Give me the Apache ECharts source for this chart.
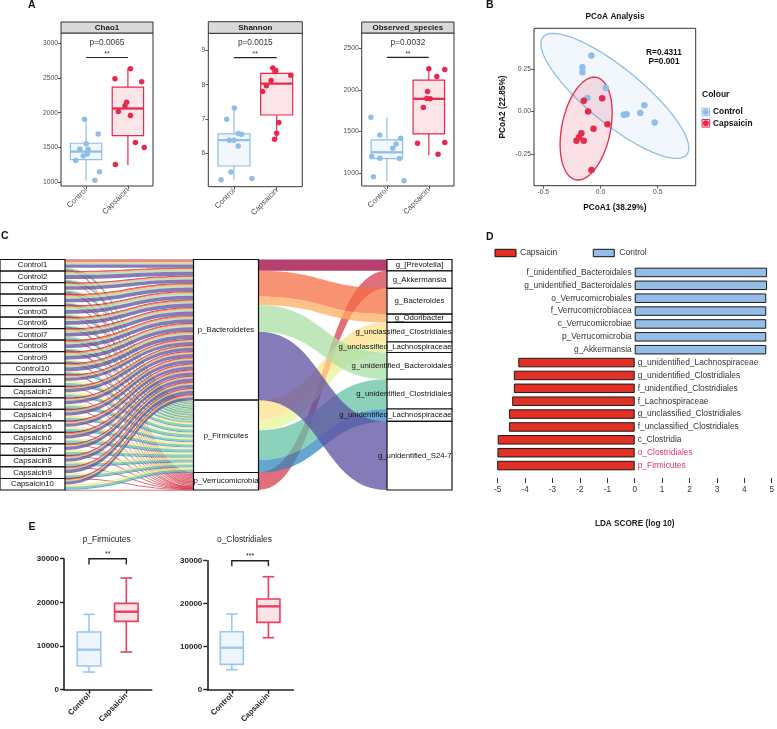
<!DOCTYPE html>
<html><head><meta charset="utf-8">
<script src="https://cdn.jsdelivr.net/npm/echarts@6/dist/echarts.min.js"></script>
<style>html,body{margin:0;padding:0;background:#fff}#c{width:777px;height:729px}</style>
</head><body><div id="c"></div>
<script>
// ================= DATA =================
const groups = ['Control', 'Capsaicin'];

// Panel A: alpha diversity (box stats: [lower whisker, Q1, median, Q3, upper whisker])
const chao1Box = [[1024, 1326, 1441, 1561, 1911], [1249, 1671, 2060, 2367, 2636]];
const chao1Control = [1906, 1695, 1552, 1480, 1475, 1408, 1379, 1312, 1153, 1029];
const chao1ControlJitter = [-0.04, 0.29, 0.0, -0.15, 0.05, 0.03, -0.07, -0.25, 0.32, 0.21];
const chao1Caps = [2631, 2487, 2444, 2151, 2098, 2017, 1959, 1571, 1499, 1254];
const chao1CapsJitter = [0.06, -0.31, 0.33, -0.03, -0.07, -0.23, 0.06, 0.18, 0.39, -0.3];
const chao1Ticks = [1000, 1500, 2000, 2500, 3000];

const shannonBox = [[5.23, 5.64, 6.39, 6.57, 7.32], [6.43, 7.12, 8.03, 8.33, 8.48]];
const shannonControl = [7.32, 7.0, 6.58, 6.56, 6.39, 6.39, 6.22, 5.47, 5.24, 5.28];
const shannonControlJitter = [0.01, -0.17, 0.1, 0.18, -0.11, 0, 0.1, -0.07, -0.3, 0.42];
const shannonCaps = [8.48, 8.41, 8.38, 8.27, 8.12, 7.97, 7.8, 6.9, 6.59, 6.42];
const shannonCapsJitter = [-0.09, -0.02, -0.04, 0.33, -0.13, -0.24, -0.33, 0.05, 0, -0.05];
const shannonTicks = [6, 7, 8, 9];

const observedBox = [[908, 1176, 1252, 1400, 1672], [1220, 1472, 1892, 2116, 2252]];
const observedControl = [1672, 1460, 1420, 1352, 1300, 1200, 1180, 1176, 960, 912];
const observedControlJitter = [-0.38, -0.17, 0.33, 0.22, 0.14, -0.36, -0.17, 0.3, -0.32, 0.41];
const observedCaps = [2252, 2244, 2160, 1980, 1896, 1892, 1788, 1360, 1368, 1228];
const observedCapsJitter = [0, 0.38, 0.19, -0.03, -0.05, 0.03, -0.13, -0.27, 0.38, 0.22];
const observedTicks = [1000, 1500, 2000, 2500];

const facetTitles = ['Chao1', 'Shannon', 'Observed_species'];
const facetPValues = ['p=0.0065', 'p=0.0015', 'p=0.0032'];
const facetSigY = [2792, 8.785, 2387];

// Panel B: PCoA
const pcoaControlX = [-0.079, -0.158, -0.158, 0.047, -0.114, 0.204, 0.228, 0.383, 0.348, 0.473];
const pcoaControlY = [0.328, 0.26, 0.23, 0.139, 0.08, -0.018, -0.016, 0.037, -0.008, -0.064];
const pcoaCapsX = [-0.146, 0.015, -0.108, 0.061, -0.061, -0.167, -0.187, -0.21, -0.146, -0.079];
const pcoaCapsY = [0.064, 0.078, 0, -0.074, -0.1, -0.127, -0.15, -0.17, -0.17, -0.342];
// ellipse: centre, conjugate semi-axis A, conjugate semi-axis B (data units)
const ellipseControl = [0.1255, 0.0918, 0.628, -0.344, 0.153, 0.125];
const ellipseCaps = [-0.1255, -0.0996, 0.0905, 0.2998, 0.2087, -0.0283];
const pcoaXTicks = [-0.5, 0, 0.5];
const pcoaYTicks = [-0.25, 0, 0.25];

// Panel C: alluvial (relative abundance, %)
const samples = ['Control1','Control2','Control3','Control4','Control5','Control6','Control7','Control8','Control9','Control10',
  'Capsaicin1','Capsaicin2','Capsaicin3','Capsaicin4','Capsaicin5','Capsaicin6','Capsaicin7','Capsaicin8','Capsaicin9','Capsaicin10'];
const phyla = ['p_Bacteroidetes', 'p_Firmicutes', 'p_Verrucomicrobia'];
const genera = ['g_[Prevotella]', 'g_Akkermansia', 'g_Bacteroides', 'g_Odoribacter', 'g_unclassified_Clostridiales',
  'g_unclassified_Lachnospiraceae', 'g_unidentified_Bacteroidales', 'g_unidentified_Clostridiales',
  'g_unidentified_Lachnospiraceae', 'g_unidentified_S24-7'];
const genusPhylum = [0, 2, 0, 0, 1, 1, 0, 1, 1, 0];
const abundance = [
  [9, 14, 15, 5, 4, 2, 14, 7, 2, 28],
  [3, 10, 11, 3, 6, 3, 18, 9, 3, 34],
  [5, 16, 9, 4, 5, 4, 15, 8, 4, 30],
  [4, 12, 14, 5, 4, 3, 17, 6, 3, 32],
  [6, 9, 10, 4, 6, 2, 19, 9, 2, 33],
  [4, 13, 13, 3, 5, 3, 14, 8, 3, 34],
  [5, 11, 12, 4, 4, 3, 16, 10, 4, 31],
  [6, 14, 11, 4, 5, 3, 15, 7, 3, 32],
  [4, 10, 12, 4, 6, 4, 17, 8, 3, 32],
  [4, 11, 13, 4, 5, 4, 15, 8, 3, 33],
  [5, 3, 11, 3, 12, 6, 7, 18, 8, 27],
  [4, 2, 10, 3, 13, 7, 6, 17, 9, 29],
  [6, 4, 9, 4, 11, 5, 8, 19, 7, 27],
  [4, 3, 12, 3, 12, 6, 7, 16, 8, 29],
  [5, 4, 10, 3, 13, 6, 8, 18, 7, 26],
  [5, 3, 11, 3, 11, 7, 7, 18, 8, 27],
  [4, 3, 10, 4, 12, 6, 7, 19, 8, 27],
  [5, 3, 11, 3, 12, 5, 8, 17, 8, 28],
  [5, 4, 9, 3, 11, 6, 7, 18, 7, 30],
  [5, 3, 11, 3, 13, 6, 7, 18, 8, 26]
];

// Panel D: LEfSe
const ldaLabels = ['f_unidentified_Bacteroidales', 'g_unidentified_Bacteroidales', 'o_Verrucomicrobiales',
  'f_Verrucomicrobiacea', 'c_Verrucomicrobiae', 'p_Verrucomicrobia', 'g_Akkermansia',
  'g_unidentified_Lachnospiraceae', 'g_unidentified_Clostridiales', 'f_unidentified_Clostridiales',
  'f_Lachnospiraceae', 'g_unclassified_Clostridiales', 'f_unclassified_Clostridiales', 'c_Clostridia',
  'o_Clostridiales', 'p_Firmicutes'];
const ldaScores = [4.83, 4.83, 4.80, 4.80, 4.80, 4.80, 4.80, -4.25, -4.41, -4.41, -4.47, -4.59, -4.59, -5.0, -5.01, -5.05];
const ldaGroups = ['Control','Control','Control','Control','Control','Control','Control',
  'Capsaicin','Capsaicin','Capsaicin','Capsaicin','Capsaicin','Capsaicin','Capsaicin','Capsaicin','Capsaicin'];
const ldaHighlight = ['o_Clostridiales', 'p_Firmicutes'];

// Panel E
const firmicutesBox = [[4046, 5420, 9160, 13206, 17252], [8626, 15649, 17863, 19771, 25573]];
const clostridialesBox = [[4651, 5891, 9767, 13488, 17597], [12093, 15659, 19380, 21085, 26279]];
const eTitles = ['p_Firmicutes', 'o_Clostridiales'];
const eStars = ['**', '***'];

// ================= STYLE =================
const FONT = '"Liberation Sans", Arial, Helvetica, sans-serif';
const CTRL = '#8FBFE8', CAPS = '#E52B4D';
const CTRL_FILL = 'rgba(143,191,232,0.13)', CAPS_FILL = 'rgba(229,43,77,0.12)';
const genusColors = ['#9E0142', '#D53E4F', '#F46D43', '#FDAE61', '#FEE08B', '#E6F598', '#ABDDA4', '#66C2A5', '#3288BD', '#5E4FA2'];
const plain = v => String(v);

// ================= HELPERS =================
function boxSeries(ai, stats, w, lw, mw, cap, strokes, fills) {
  return {
    type: 'custom', xAxisIndex: ai, yAxisIndex: ai, z: 2, silent: true,
    data: stats.map((s, i) => [i + 1].concat(s)),
    encode: {x: 0, y: [1, 2, 3, 4, 5]},
    renderItem: function (params, api) {
      const i = params.dataIndex;
      const x = api.value(0);
      const lo = api.coord([x, api.value(1)]), q1 = api.coord([x, api.value(2)]);
      const md = api.coord([x, api.value(3)]), q3 = api.coord([x, api.value(4)]);
      const hi = api.coord([x, api.value(5)]);
      const xl = api.coord([x - w / 2, api.value(3)])[0], xr = api.coord([x + w / 2, api.value(3)])[0];
      const st = {stroke: strokes[i], lineWidth: lw};
      const ch = [
        {type: 'line', shape: {x1: lo[0], y1: lo[1], x2: q1[0], y2: q1[1]}, style: st},
        {type: 'line', shape: {x1: q3[0], y1: q3[1], x2: hi[0], y2: hi[1]}, style: st},
        {type: 'rect', shape: {x: xl, y: q3[1], width: xr - xl, height: q1[1] - q3[1]}, style: {fill: fills[i], stroke: strokes[i], lineWidth: lw}},
        {type: 'line', shape: {x1: xl, y1: md[1], x2: xr, y2: md[1]}, style: {stroke: strokes[i], lineWidth: mw}}
      ];
      if (cap) {
        const cw = (xr - xl) * cap / 2;
        ch.push({type: 'line', shape: {x1: lo[0] - cw, y1: lo[1], x2: lo[0] + cw, y2: lo[1]}, style: st});
        ch.push({type: 'line', shape: {x1: hi[0] - cw, y1: hi[1], x2: hi[0] + cw, y2: hi[1]}, style: st});
      }
      return {type: 'group', children: ch};
    }
  };
}
function jitterSeries(ai, gx, vals, jit, color, size) {
  return {type: 'scatter', xAxisIndex: ai, yAxisIndex: ai, z: 3, symbolSize: size,
    itemStyle: {color: color, opacity: 1}, silent: true,
    data: vals.map((v, i) => [gx + jit[i], v])};
}
function sigASeries(ai) {
  return {type: 'custom', xAxisIndex: ai, yAxisIndex: ai, z: 4, silent: true,
    data: [[1, 2, facetSigY[ai]]], encode: {x: [0, 1], y: 2},
    renderItem: function (params, api) {
      const p1 = api.coord([api.value(0), api.value(2)]), p2 = api.coord([api.value(1), api.value(2)]);
      const mx = (p1[0] + p2[0]) / 2;
      return {type: 'group', children: [
        {type: 'line', shape: {x1: p1[0], y1: p1[1], x2: p2[0], y2: p2[1]}, style: {stroke: '#222', lineWidth: 1.2}},
        {type: 'text', style: {x: mx, y: p1[1] - 15, text: facetPValues[ai], align: 'center', verticalAlign: 'middle', fontSize: 8.3, fontFamily: FONT, fill: '#333'}},
        {type: 'text', style: {x: mx, y: p1[1] - 3.5, text: '**', align: 'center', verticalAlign: 'middle', fontSize: 7, fontFamily: FONT, fill: '#333'}}
      ]};
    }};
}
function sigESeries(ai, k) {
  return {type: 'custom', xAxisIndex: ai, yAxisIndex: ai, z: 4, silent: true,
    data: [[1, 2, 30000, 28700]], encode: {x: [0, 1], y: [2, 3]},
    renderItem: function (params, api) {
      const a = api.coord([api.value(0), api.value(2)]), b = api.coord([api.value(1), api.value(2)]);
      const a2 = api.coord([api.value(0), api.value(3)]), b2 = api.coord([api.value(1), api.value(3)]);
      const st = {stroke: '#222', lineWidth: 1.4, fill: null};
      return {type: 'group', children: [
        {type: 'polyline', shape: {points: [[a2[0], a2[1]], [a[0], a[1]], [b[0], b[1]], [b2[0], b2[1]]]}, style: st},
        {type: 'text', style: {x: (a[0] + b[0]) / 2, y: a[1] - 4.5, text: eStars[k], align: 'center', verticalAlign: 'middle', fontSize: 7, fontFamily: FONT, fill: '#222'}}
      ]};
    }};
}
function facetX(gi) {
  return {gridIndex: gi, type: 'value', min: 0.4, max: 2.6,
    axisLine: {show: false, onZero: false}, splitLine: {show: false},
    axisTick: {show: true, customValues: [1, 2], length: 3, lineStyle: {color: '#333', width: 0.8}},
    axisLabel: {customValues: [1, 2], rotate: 45, fontSize: 7.8, color: '#4D4D4D', margin: 3, fontFamily: FONT,
      formatter: v => groups[Math.round(v) - 1]}};
}
function facetY(gi, min, max, ticks, fmt) {
  return {gridIndex: gi, type: 'value', min: min, max: max,
    axisLine: {show: false, onZero: false}, splitLine: {show: false},
    axisTick: {show: true, customValues: ticks, length: 3, lineStyle: {color: '#333', width: 0.8}},
    axisLabel: {customValues: ticks, fontSize: 6.8, color: '#4D4D4D', margin: 3, fontFamily: FONT, formatter: fmt || plain}};
}
function eX(gi) {
  return {gridIndex: gi, type: 'value', min: 0.33, max: 2.68,
    axisLine: {show: true, onZero: false, lineStyle: {color: '#222', width: 1.6}}, splitLine: {show: false},
    axisTick: {show: true, customValues: [1, 2], length: 4, lineStyle: {color: '#222', width: 1.4}},
    axisLabel: {customValues: [1, 2], rotate: 45, fontSize: 7.8, fontWeight: 'bold', color: '#222', margin: 5, fontFamily: FONT,
      formatter: v => groups[Math.round(v) - 1]}};
}
function eY(gi) {
  return {gridIndex: gi, type: 'value', min: 0, max: 30000, interval: 10000,
    axisLine: {show: true, onZero: false, lineStyle: {color: '#222', width: 1.6}}, splitLine: {show: false},
    axisTick: {show: true, length: 4, lineStyle: {color: '#222', width: 1.4}},
    axisLabel: {fontSize: 8, fontWeight: 'bold', color: '#222', margin: 5, fontFamily: FONT, formatter: plain}};
}

// ================= SANKEY DATA =================
const sankeyNodes = samples.concat(phyla).map(n => ({name: n})).concat(genera.map(n => (
  n.length > 15 ? {name: n, label: {position: 'insideRight', distance: 1}} : {name: n})));
const sankeyLinks = [];
samples.forEach((s, si) => {
  genera.forEach((g, gi) => {
    sankeyLinks.push({source: s, target: phyla[genusPhylum[gi]], value: abundance[si][gi], lineStyle: {color: genusColors[gi]}});
  });
});
genera.forEach((g, gi) => {
  let tot = 0;
  abundance.forEach(r => { tot += r[gi]; });
  sankeyLinks.push({source: phyla[genusPhylum[gi]], target: g, value: tot, lineStyle: {color: genusColors[gi]}});
});

// ================= GRAPHICS (titles, strips, legends) =================
const stripBoxes = [[61, 22, 92, 11], [208.3, 21.7, 94, 11.6], [361.7, 22, 92.3, 11]];
const graphics = [];
function txt(x, y, s, size, weight, align, color) {
  graphics.push({type: 'text', x: x, y: y, silent: true, style: {text: s, fontSize: size, fontWeight: weight || 'normal', fontFamily: FONT,
    fill: color || '#111', align: align || 'left', verticalAlign: 'middle'}});
}
stripBoxes.forEach((b, i) => {
  graphics.push({type: 'rect', silent: true, shape: {x: b[0], y: b[1], width: b[2], height: b[3]}, style: {fill: '#D9D9D9', stroke: '#333', lineWidth: 1}});
  txt(b[0] + b[2] / 2, b[1] + b[3] / 2 + 0.5, facetTitles[i], 8, 'bold', 'center', '#1a1a1a');
});
txt(28, 5.5, 'A', 10.5, 'bold'); txt(486, 5.5, 'B', 10.5, 'bold'); txt(1, 236.5, 'C', 10.5, 'bold');
txt(486, 237.5, 'D', 10.5, 'bold'); txt(28.5, 527, 'E', 10.5, 'bold');
txt(615, 16.7, 'PCoA Analysis', 8.3, 'bold', 'center');
txt(664, 52.3, 'R=0.4311', 8.3, 'bold', 'center'); txt(664, 61.7, 'P=0.001', 8.3, 'bold', 'center');
txt(702, 94.3, 'Colour', 8.5, 'bold');
[[112, CTRL, CTRL_FILL, 'Control'], [123.3, CAPS, CAPS_FILL, 'Capsaicin']].forEach(r => {
  graphics.push({type: 'rect', silent: true, shape: {x: 702, y: r[0] - 3.8, width: 7.6, height: 7.6}, style: {fill: r[2], stroke: r[1], lineWidth: 1}});
  graphics.push({type: 'circle', silent: true, shape: {cx: 705.8, cy: r[0], r: 3}, style: {fill: r[1]}});
  txt(713, r[0], r[3], 8.4, 'bold');
});
// D legend
graphics.push({type: 'rect', silent: true, shape: {x: 495, y: 249.3, width: 21, height: 7.4}, style: {fill: '#E23024', stroke: '#111', lineWidth: 1}});
txt(520, 253, 'Capsaicin', 8.5, 'normal', 'left', '#333');
graphics.push({type: 'rect', silent: true, shape: {x: 593.3, y: 249.3, width: 21, height: 7.4}, style: {fill: '#94BEE8', stroke: '#111', lineWidth: 1}});
txt(619.3, 253, 'Control', 8.5, 'normal', 'left', '#333');
// E titles
txt(106.7, 539.3, eTitles[0], 8.4, 'normal', 'center', '#222');
txt(244.5, 539.3, eTitles[1], 8.4, 'normal', 'center', '#222');

// ================= OPTION =================
const grids = [
  {left: 61, top: 33, width: 92, height: 153, show: true, borderColor: '#333', borderWidth: 1},
  {left: 208.3, top: 33.3, width: 94, height: 153.4, show: true, borderColor: '#333', borderWidth: 1},
  {left: 361.7, top: 33, width: 92.3, height: 153, show: true, borderColor: '#333', borderWidth: 1},
  {left: 534, top: 28.3, width: 161.7, height: 157.4, show: true, borderColor: '#333', borderWidth: 1},
  {left: 497.7, top: 266, width: 276.6, height: 206},
  {left: 64, top: 558.7, width: 87.7, height: 131},
  {left: 207.3, top: 560.7, width: 86, height: 129}
];

const xAxes = [facetX(0), facetX(1), facetX(2),
  {gridIndex: 3, type: 'value', min: -0.581, max: 0.832, name: 'PCoA1 (38.29%)', nameLocation: 'middle', nameGap: 18,
    nameTextStyle: {fontSize: 8.3, fontWeight: 'bold', color: '#111', fontFamily: FONT},
    axisLine: {show: false, onZero: false}, splitLine: {show: false},
    axisTick: {show: true, customValues: pcoaXTicks, length: 3, lineStyle: {color: '#333', width: 0.8}},
    axisLabel: {customValues: pcoaXTicks, fontSize: 6.8, color: '#4D4D4D', margin: 3, fontFamily: FONT, formatter: v => v.toFixed(1)}},
  {gridIndex: 4, type: 'value', min: -5, max: 5, interval: 1, offset: 6, name: 'LDA SCORE (log 10)', nameLocation: 'middle', nameGap: 42,
    nameTextStyle: {fontSize: 8.2, fontWeight: 'bold', color: '#222', fontFamily: FONT},
    axisLine: {show: false, onZero: false}, splitLine: {show: false},
    axisTick: {show: true, length: 5, lineStyle: {color: '#333', width: 1}},
    axisLabel: {fontSize: 8.2, color: '#333', margin: 8, fontFamily: FONT}},
  eX(5), eX(6)
];
const yAxes = [
  facetY(0, 947, 3144, chao1Ticks), facetY(1, 5.04, 9.49, shannonTicks), facetY(2, 848, 2680, observedTicks),
  Object.assign(facetY(3, -0.434, 0.488, pcoaYTicks, v => v.toFixed(2)), {name: 'PCoA2 (22.85%)', nameLocation: 'middle', nameGap: 27,
    nameTextStyle: {fontSize: 8.3, fontWeight: 'bold', color: '#111', fontFamily: FONT}}),
  {gridIndex: 4, type: 'category', data: ldaLabels, inverse: true, show: false},
  eY(5), eY(6)
];

const series = [];
// Panel A
const aBoxes = [chao1Box, shannonBox, observedBox];
const aCtrl = [[chao1Control, chao1ControlJitter], [shannonControl, shannonControlJitter], [observedControl, observedControlJitter]];
const aCaps = [[chao1Caps, chao1CapsJitter], [shannonCaps, shannonCapsJitter], [observedCaps, observedCapsJitter]];
for (let k = 0; k < 3; k++) {
  series.push(boxSeries(k, aBoxes[k], 0.75, 1.2, 2.3, 0, [CTRL, CAPS], [CTRL_FILL, CAPS_FILL]));
  series.push(jitterSeries(k, 1, aCtrl[k][0], aCtrl[k][1], CTRL, 5.5));
  series.push(jitterSeries(k, 2, aCaps[k][0], aCaps[k][1], CAPS, 5.5));
  series.push(sigASeries(k));
}
// Panel B
series.push({type: 'custom', xAxisIndex: 3, yAxisIndex: 3, z: 2, silent: true,
  data: [ellipseControl, ellipseCaps], encode: {x: 0, y: 1},
  renderItem: function (params, api) {
    const cx = api.value(0), cy = api.value(1), ax = api.value(2), ay = api.value(3), bx = api.value(4), by = api.value(5);
    const pts = [];
    for (let t = 0; t < 96; t++) {
      const a = t / 96 * Math.PI * 2;
      pts.push(api.coord([cx + ax * Math.cos(a) + bx * Math.sin(a), cy + ay * Math.cos(a) + by * Math.sin(a)]));
    }
    const i = params.dataIndex;
    return {type: 'polygon', shape: {points: pts},
      style: {fill: i === 0 ? 'rgba(143,191,232,0.13)' : 'rgba(229,43,77,0.14)', stroke: i === 0 ? CTRL : CAPS, lineWidth: 1.3}};
  }});
series.push({type: 'scatter', name: 'Control', xAxisIndex: 3, yAxisIndex: 3, z: 3, symbolSize: 6.5, silent: true,
  itemStyle: {color: CTRL, opacity: 1}, data: pcoaControlX.map((x, i) => [x, pcoaControlY[i]])});
series.push({type: 'scatter', name: 'Capsaicin', xAxisIndex: 3, yAxisIndex: 3, z: 3, symbolSize: 6.5, silent: true,
  itemStyle: {color: CAPS, opacity: 1}, data: pcoaCapsX.map((x, i) => [x, pcoaCapsY[i]])});
// Panel C
series.push({type: 'sankey', left: 0, top: 259.5, width: 452, height: 230.5, nodeWidth: 65, nodeGap: 0,
  layoutIterations: 0, draggable: false, silent: true,
  data: sankeyNodes, links: sankeyLinks,
  itemStyle: {color: '#fff', borderColor: '#111', borderWidth: 1.2, opacity: 1},
  lineStyle: {opacity: 0.75, curveness: 0.5},
  label: {show: true, position: 'inside', color: '#111', fontSize: 7.8, fontFamily: FONT}});
// Panel D
series.push({type: 'bar', name: 'Control', xAxisIndex: 4, yAxisIndex: 4, barWidth: 9.5, barGap: '-100%', silent: true,
  itemStyle: {color: '#94BEE8', borderColor: '#1a1a1a', borderWidth: 1},
  data: ldaScores.map((v, i) => ldaGroups[i] === 'Control' ? v : '-')});
series.push({type: 'bar', name: 'Capsaicin', xAxisIndex: 4, yAxisIndex: 4, barWidth: 9.5, barGap: '-100%', silent: true,
  itemStyle: {color: '#E23024', borderColor: '#1a1a1a', borderWidth: 1},
  data: ldaScores.map((v, i) => ldaGroups[i] === 'Capsaicin' ? v : '-')});
series.push({type: 'custom', xAxisIndex: 4, yAxisIndex: 4, z: 5, silent: true,
  data: ldaScores.map((v, i) => [0, i, v]), encode: {x: 0, y: 1},
  renderItem: function (params, api) {
    const i = params.dataIndex, v = api.value(2);
    const p = api.coord([0, api.value(1)]);
    return {type: 'text', style: {x: p[0] + (v > 0 ? -3 : 3), y: p[1], text: ldaLabels[i], align: v > 0 ? 'right' : 'left',
      verticalAlign: 'middle', fontSize: 8.4, fontFamily: FONT,
      fill: ldaHighlight.indexOf(ldaLabels[i]) >= 0 ? '#E8336F' : '#333'}};
  }});
// Panel E
series.push(boxSeries(5, firmicutesBox, 0.63, 1.6, 2.4, 0.5, ['#9CC8EE', '#E8405F'], ['#EEF5FC', '#FBE3E8']));
series.push(boxSeries(6, clostridialesBox, 0.63, 1.6, 2.4, 0.5, ['#9CC8EE', '#E8405F'], ['#EEF5FC', '#FBE3E8']));
series.push(sigESeries(5, 0));
series.push(sigESeries(6, 1));

const chart = echarts.init(document.getElementById('c'), null, {renderer: 'canvas', width: 777, height: 729});
chart.setOption({
  backgroundColor: '#fff',
  animation: false,
  textStyle: {fontFamily: FONT},
  grid: grids, xAxis: xAxes, yAxis: yAxes, series: series, graphic: graphics
});
</script></body></html>
